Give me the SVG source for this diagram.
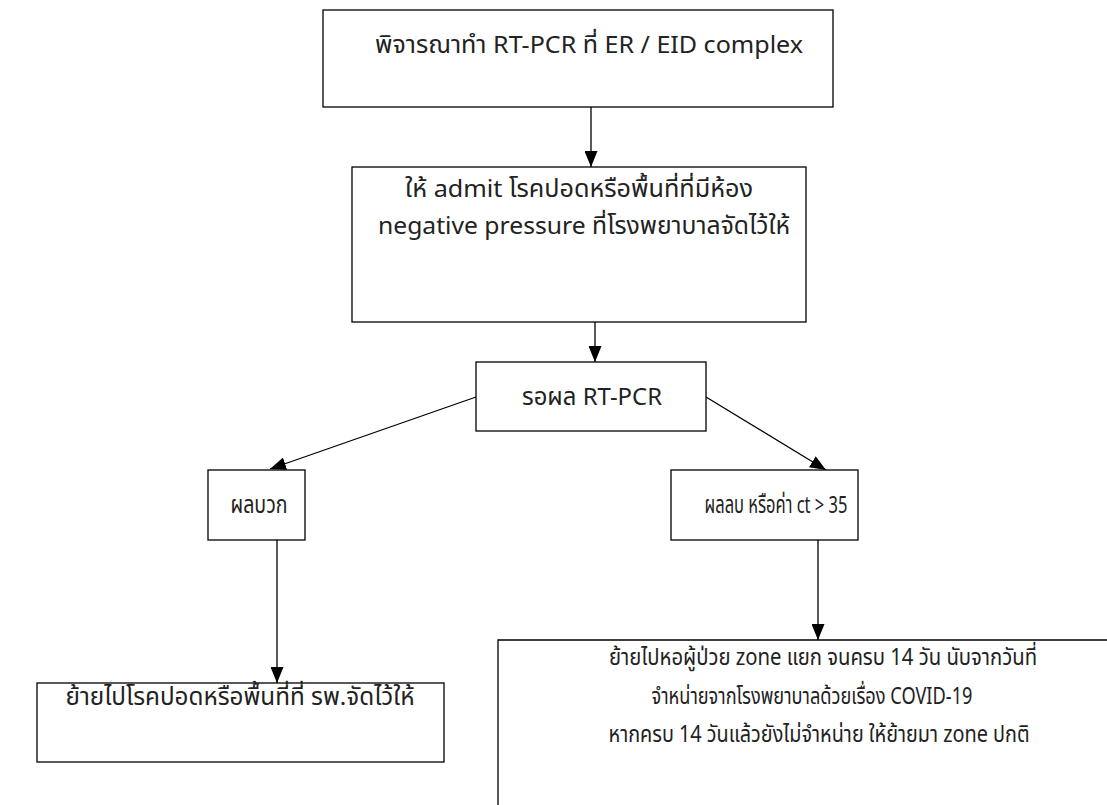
<svg xmlns="http://www.w3.org/2000/svg" width="1107" height="805" viewBox="0 0 1107 805">
<style>
.box{fill:#fff;stroke:#000;stroke-width:1.3}
.t{font-family:"Noto Sans Thai","Noto Sans","Liberation Sans",sans-serif;font-size:24px;fill:#222;text-anchor:middle}
.s{font-size:23px}
.c{stroke:#000;stroke-width:1.3;fill:none;marker-end:url(#ah)}
</style>
<defs>
<marker id="ah" viewBox="0 0 16 13" refX="16" refY="6.5" markerWidth="16" markerHeight="13" orient="auto" markerUnits="userSpaceOnUse">
<path d="M0,0 L16,6.5 L0,13 z" fill="#000"/>
</marker>
</defs>
<rect width="1107" height="805" fill="#fff"/>
<g id="connectors">
<path class="c" d="M591,107 L591,167"/>
<path class="c" d="M595,322 L595,362"/>
<path class="c" d="M476,397 L270,469"/>
<path class="c" d="M706,397 L826,470"/>
<path class="c" d="M277,540 L277,683"/>
<path class="c" d="M818,540 L818,640"/>
</g>
<g id="n1">
<rect class="box" x="323" y="10" width="510" height="97"/>
<text class="t" x="589" y="53" textLength="428" lengthAdjust="spacingAndGlyphs">พิจารณาทำ RT-PCR ที่ ER / EID complex</text>
</g>
<g id="n2">
<rect class="box" x="352" y="167" width="454" height="155"/>
<text class="t" x="579" y="197" textLength="348" lengthAdjust="spacingAndGlyphs">ให้ admit โรคปอดหรือพื้นที่ที่มีห้อง</text>
<text class="t" x="584" y="234" textLength="412" lengthAdjust="spacingAndGlyphs">negative pressure ที่โรงพยาบาลจัดไว้ให้</text>
</g>
<g id="n3">
<rect class="box" x="476" y="362" width="230" height="69"/>
<text class="t" x="592" y="405" textLength="140" lengthAdjust="spacingAndGlyphs">รอผล RT-PCR</text>
</g>
<g id="n4">
<rect class="box" x="208" y="470" width="97" height="70"/>
<text class="t" x="259" y="513" textLength="57" lengthAdjust="spacingAndGlyphs">ผลบวก</text>
</g>
<g id="n5">
<rect class="box" x="671" y="470" width="187" height="70"/>
<text class="t" x="776" y="513" textLength="143" lengthAdjust="spacingAndGlyphs">ผลลบ หรือค่า ct &gt; 35</text>
</g>
<g id="n6">
<rect class="box" x="37" y="683" width="407" height="79"/>
<text class="t" x="240" y="705" textLength="349" lengthAdjust="spacingAndGlyphs">ย้ายไปโรคปอดหรือพื้นที่ที่ รพ.จัดไว้ให้</text>
</g>
<g id="n7">
<path class="box" d="M498,805 V640 H1107"/>
<text class="t s" x="823" y="665" textLength="428" lengthAdjust="spacingAndGlyphs">ย้ายไปหอผู้ป่วย zone แยก จนครบ 14 วัน นับจากวันที่</text>
<text class="t s" x="812" y="704" textLength="321" lengthAdjust="spacingAndGlyphs">จำหน่ายจากโรงพยาบาลด้วยเรื่อง COVID-19</text>
<text class="t s" x="819" y="742" textLength="421" lengthAdjust="spacingAndGlyphs">หากครบ 14 วันแล้วยังไม่จำหน่าย ให้ย้ายมา zone ปกติ</text>
</g>
</svg>
